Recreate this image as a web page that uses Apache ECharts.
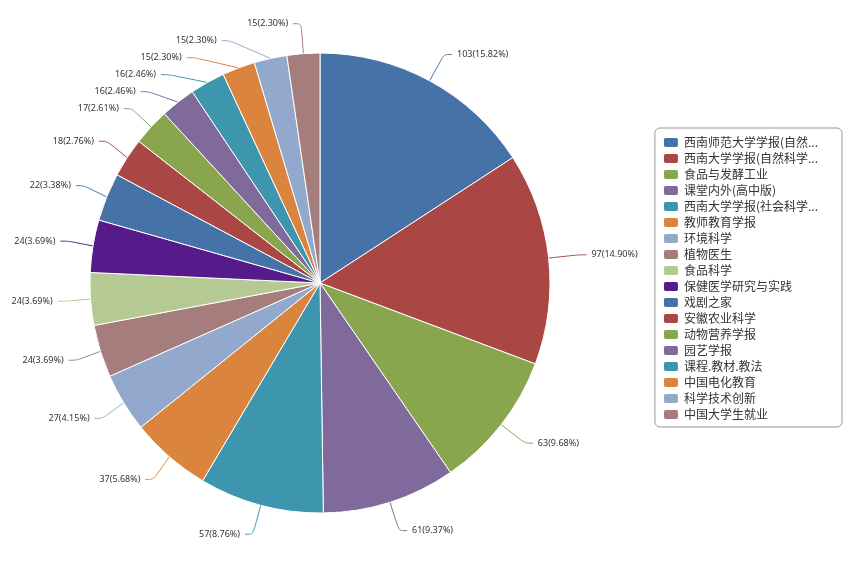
<!DOCTYPE html>
<html>
<head>
<meta charset="utf-8">
<script src="https://cdn.jsdelivr.net/npm/echarts@6/dist/echarts.min.js"></script>
<style>html,body{margin:0;padding:0;background:#fff;}#c{width:855px;height:574px;}</style>
</head>
<body>
<div id="c"></div>
<script>
const categories = ['西南师范大学学报(自然科学版)','西南大学学报(自然科学版)','食品与发酵工业','课堂内外(高中版)','西南大学学报(社会科学版)','教师教育学报','环境科学','植物医生','食品科学','保健医学研究与实践','戏剧之家','安徽农业科学','动物营养学报','园艺学报','课程.教材.教法','中国电化教育','科学技术创新','中国大学生就业'];
const values = [103,97,63,61,57,37,27,24,24,24,22,18,17,16,16,15,15,15];
const palette = ['#4572A7','#AA4643','#89A54E','#80699B','#3D96AE','#DB843D','#92A8CD','#A47D7C','#B5CA92','#561A8B'];

const total = values.reduce((a,b)=>a+b,0);
const data = categories.map((n,i)=>({name:n,value:values[i]}));
const chart = echarts.init(document.getElementById('c'));
chart.setOption({
  color: palette,
  animation: false,
  legend: {
    orient: 'vertical',
    right: 13,
    top: 128,
    padding: [8, 24, 6, 7],
    itemWidth: 16,
    itemHeight: 11,
    itemGap: 3,
    borderColor: '#999',
    borderWidth: 1,
    borderRadius: 5,
    textStyle: {fontSize: 12, color: '#333', fontFamily: 'Noto Sans CJK SC', width: 140, overflow: 'truncate', ellipsis: '...'},
    data: categories
  },
  series: [{
    type: 'pie',
    center: [320, 283],
    radius: 230,
    data: data,
    itemStyle: {borderColor: '#fff', borderWidth: 1},
    label: {
      fontSize: 9,
      lineHeight: 15,
      color: '#333',
      fontFamily: 'Noto Sans',
      formatter: p => p.value + '(' + (p.value/total*100).toFixed(2) + '%)'
    },
    labelLine: {length: 30, length2: 8, smooth: true}
  }]
});
</script>
</body>
</html>
